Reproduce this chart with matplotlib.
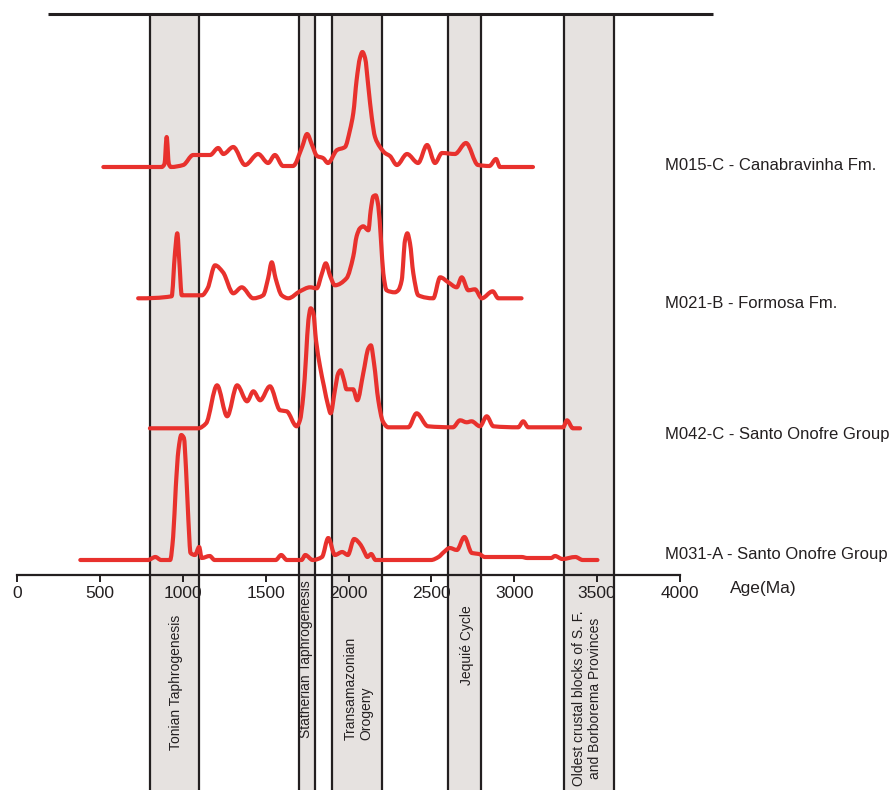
import numpy as np
import matplotlib
matplotlib.use('Agg')
import matplotlib.pyplot as plt
from matplotlib.path import Path
from matplotlib.patches import PathPatch

plt.rcParams['font.family'] = ['Liberation Sans', 'DejaVu Sans']

# detrital zircon age spectra (age in Ma, relative probability, baseline 0)
m015_age = [521, 873, 890, 903, 916, 929, 1003, 1063, 1165, 1214, 1245, 1305, 1376, 1455, 1515, 1556,
            1605, 1665, 1720, 1750, 1780, 1810, 1846, 1876, 1931, 1979, 2009, 2029, 2049, 2069, 2084,
            2100, 2120, 2140, 2160, 2190, 2220, 2250, 2292, 2353, 2420, 2474, 2522, 2564, 2642, 2709,
            2781, 2850, 2890, 2914, 3113]
m015_p = [0, 0, 3, 30, 3, 0, 2, 12, 12, 19, 13, 20, 2, 13, 4, 12,
          1, 1, 20, 33, 22, 11, 9, 4, 17, 20, 37, 54, 87, 109, 115,
          109, 80, 50, 30, 20, 14, 11, 2, 13, 4, 22, 4, 14, 13, 24,
          2, 1, 8, 0, 0]

m021_age = [731, 933, 953, 967, 979, 994, 1116, 1150, 1195, 1243, 1305, 1356, 1425, 1485, 1515, 1537,
            1560, 1597, 1637, 1707, 1768, 1808, 1840, 1863, 1890, 1918, 1988, 2029, 2049, 2069, 2089,
            2120, 2134, 2150, 2164, 2180, 2196, 2210, 2230, 2280, 2300, 2321, 2341, 2355, 2371, 2391,
            2421, 2511, 2553, 2602, 2653, 2683, 2723, 2763, 2804, 2870, 2904, 3044]
m021_p = [0, 2, 45, 65, 38, 3, 3, 10, 33, 26, 5, 11, 0, 3, 20, 36,
          20, 3, 0, 7, 11, 10, 25, 35, 22, 13, 20, 42, 62, 70, 72,
          68, 88, 102, 103, 92, 58, 25, 8, 6, 8, 18, 58, 65, 55, 25,
          3, 0, 21, 16, 11, 21, 8, 9, 0, 7, 0, 0]

m042_age = [802, 1093, 1141, 1207, 1268, 1328, 1388, 1426, 1467, 1526, 1587, 1627, 1687, 1707, 1727,
            1744, 1758, 1772, 1788, 1804, 1828, 1852, 1878, 1892, 1918, 1938, 1952, 1973, 1988, 2028,
            2053, 2089, 2120, 2135, 2154, 2180, 2207, 2240, 2361, 2411, 2479, 2630, 2673, 2713, 2743,
            2793, 2834, 2874, 3024, 3054, 3084, 3295, 3318, 3354, 3397]
m042_p = [0, 0, 5, 43, 12, 43, 27, 37, 28, 42, 18, 17, 2, 8, 32,
          72, 108, 120, 115, 88, 62, 42, 22, 15, 38, 55, 58, 48, 39, 39,
          28, 55, 80, 83, 65, 28, 7, 1, 1, 15, 2, 1, 8, 6, 7,
          2, 12, 2, 1, 7, 1, 1, 8, 0, 0]

m031_age = [382, 790, 835, 869, 924, 942, 958, 974, 991, 1007, 1020, 1034, 1047, 1074, 1099, 1114,
            1163, 1192, 1561, 1594, 1628, 1717, 1739, 1784, 1840, 1878, 1918, 1962, 1996, 2034, 2074,
            2096, 2114, 2137, 2163, 2498, 2543, 2576, 2610, 2654, 2699, 2744, 2788, 2822, 3000, 3045,
            3078, 3223, 3246, 3290, 3369, 3413, 3502]
m031_p = [0, 0, 3, 0, 0, 23, 73, 110, 125, 122, 90, 40, 7, 5, 13, 2,
          4, 0, 0, 5, 0, 0, 5, 0, 3, 22, 5, 8, 5, 21, 15,
          8, 3, 6, 0, 0, 3, 8, 12, 10, 23, 7, 6, 3, 3, 3,
          2, 2, 4, 1, 3, 0, 0]

samples = ['M031-A - Santo Onofre Group', 'M042-C - Santo Onofre Group',
           'M021-B - Formosa Fm.', 'M015-C - Canabravinha Fm.']
ages = [m031_age, m042_age, m021_age, m015_age]
probs = [m031_p, m042_p, m021_p, m015_p]
offsets = [230, 361.7, 491.7, 623]
label_y = [235, 355, 486, 625]

# tectonic events (Ma)
events = ['Tonian Taphrogenesis', 'Statherian Taphrogenesis', 'Transamazonian\nOrogeny',
          'Jequié Cycle', 'Oldest crustal blocks of S. F.\nand Borborema Provinces']
ev_start = [800, 1700, 1900, 2600, 3300]
ev_end = [1100, 1800, 2200, 2800, 3600]

red = '#e8312d'
band = '#e6e2e0'
ink = '#231f20'


def smooth_path(x, y):
    # smoothed line (like a spreadsheet "smooth line"): cubic bezier with monotone tangents
    x = np.asarray(x, float)
    y = np.asarray(y, float)
    h = np.diff(x)
    d = np.diff(y) / h
    m = np.zeros_like(y)
    for k in range(1, len(x) - 1):
        if d[k - 1] * d[k] > 0:
            w1 = 2 * h[k] + h[k - 1]
            w2 = h[k] + 2 * h[k - 1]
            m[k] = (w1 + w2) / (w1 / d[k - 1] + w2 / d[k])
    verts = [(x[0], y[0])]
    codes = [Path.MOVETO]
    for k in range(len(x) - 1):
        verts += [(x[k] + h[k] / 3, y[k] + m[k] * h[k] / 3),
                  (x[k + 1] - h[k] / 3, y[k + 1] - m[k + 1] * h[k] / 3),
                  (x[k + 1], y[k + 1])]
        codes += [Path.CURVE4] * 3
    return Path(verts, codes)


fig = plt.figure(figsize=(8.93, 7.90), dpi=100)
ax = fig.add_axes([0, 0, 1, 1])
ax.set_xlim(-17 / 0.16575, (893 - 17) / 0.16575)
ax.set_ylim(0, 790)

top = 776
for s, e in zip(ev_start, ev_end):
    ax.fill_between([s, e], 0, top, color=band, lw=0, zorder=0)
    ax.vlines([s, e], 0, top, color=ink, lw=1.6, zorder=1)
ax.plot([187, 4200], [top, top], color=ink, lw=2.2, solid_capstyle='butt', zorder=1)

for a, p, off in zip(ages, probs, offsets):
    pth = smooth_path(a, np.array(p) + off)
    ax.add_patch(PathPatch(pth, fill=False, edgecolor=red, lw=3, joinstyle='round',
                           capstyle='round', zorder=3))

for name, y in zip(samples, label_y):
    ax.text(3909, y, name, fontsize=12, color=ink, ha='left', va='center')
ax.text(4302, 201, 'Age(Ma)', fontsize=12.5, color=ink, ha='left', va='center')

# event labels (rotated)
ax.text(959, 108, events[0], rotation=90, fontsize=10, color=ink, ha='center', va='center')
ax.text(1742, 52, events[1], rotation=90, fontsize=10, color=ink, ha='center', va='bottom')
ax.text(2060, 50, events[2], rotation=90, fontsize=10, color=ink, ha='center', va='bottom',
        multialignment='left')
ax.text(2713, 145, events[3], rotation=90, fontsize=10, color=ink, ha='center', va='center')
ax.text(3439, 92, events[4], rotation=90, fontsize=10, color=ink, ha='center', va='center',
        multialignment='center')

for side in ['top', 'right', 'left']:
    ax.spines[side].set_visible(False)
ax.spines['bottom'].set_position(('data', 215))
ax.spines['bottom'].set_bounds(0, 4000)
ax.spines['bottom'].set_linewidth(1.6)
ax.spines['bottom'].set_color(ink)
ax.spines['bottom'].set_zorder(2)
ax.set_xticks(np.arange(0, 4001, 500))
ax.tick_params(axis='x', direction='out', length=5, width=1.4, color=ink,
               labelsize=12.5, labelcolor=ink, pad=3)
ax.set_yticks([])
ax.patch.set_visible(False)

fig.savefig('out.png', dpi=100)
